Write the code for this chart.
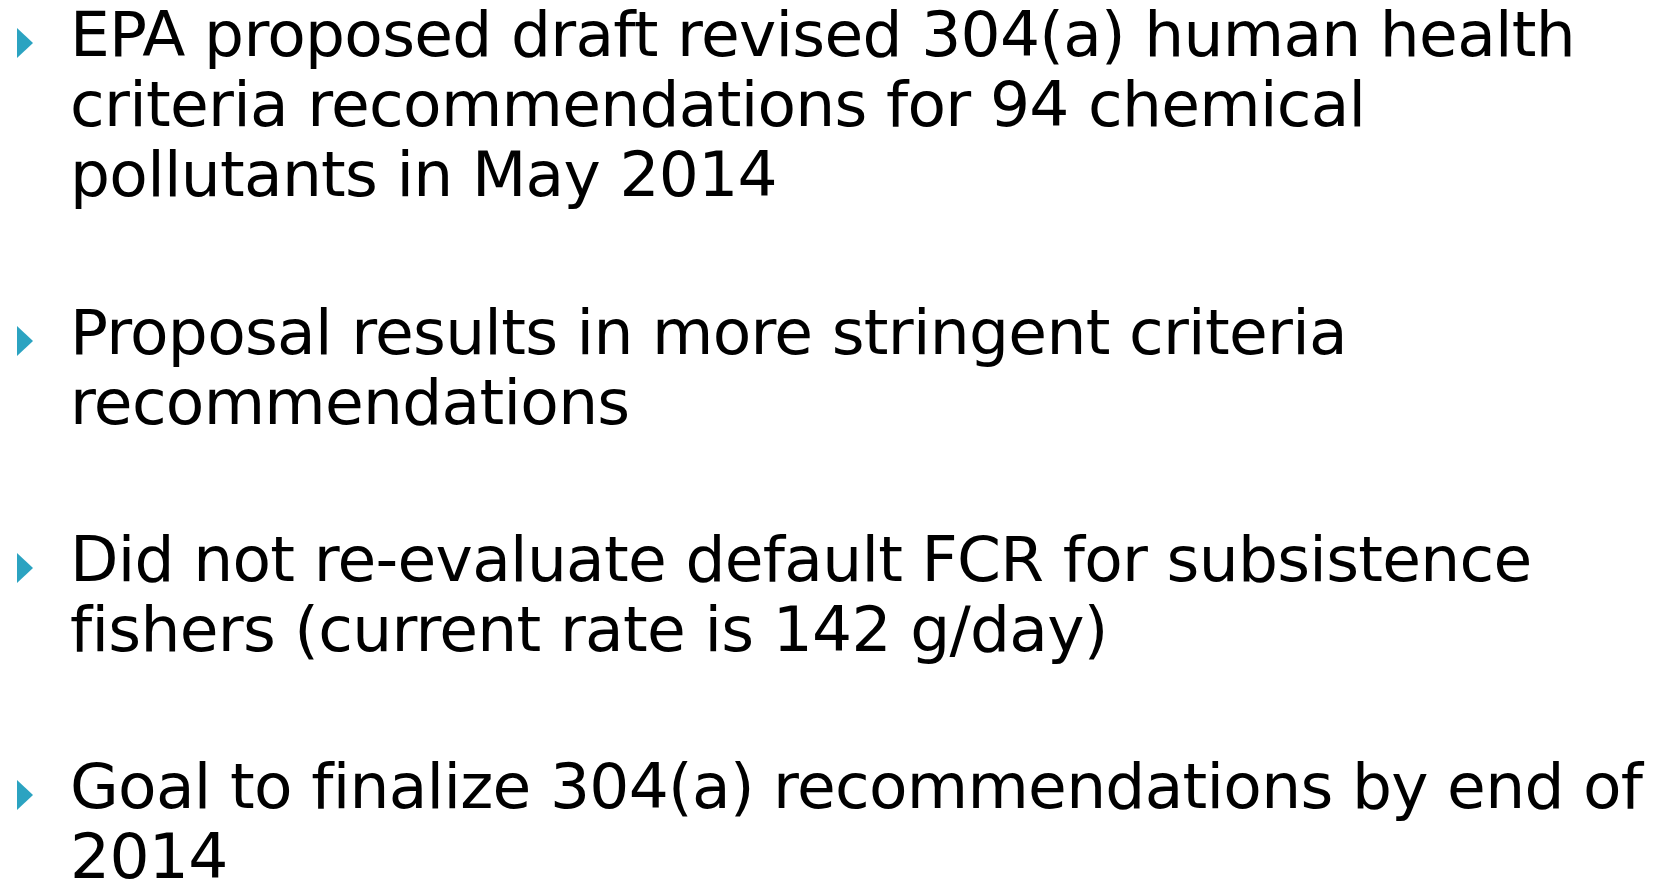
<!DOCTYPE html>
<html>
<head>
<meta charset="utf-8">
<script src="https://cdn.jsdelivr.net/npm/chart.js@4/dist/chart.umd.min.js"></script>
<style>
  html, body { margin: 0; padding: 0; background: #fff; }
  body { width: 1669px; height: 885px; position: relative; overflow: hidden; }
  .bullet { position: absolute; left: 0; }
  .bullet .mark {
    position: absolute; left: 17px; top: 28px;
    width: 0; height: 0;
    border-top: 15px solid transparent;
    border-bottom: 15px solid transparent;
    border-left: 16px solid #2ba3c1;
  }
  .bullet .line {
    position: absolute; left: 70px; white-space: nowrap;
    font-family: "DejaVu Sans", sans-serif; font-size: 63px;
    letter-spacing: -0.7px; font-variant-ligatures: none;
    line-height: 50px; color: #000;
  }
</style>
</head>
<body>
<script>
// slide text, one array per bullet (lines as they wrap in the picture)
const bullet1 = ["EPA proposed draft revised 304(a) human health",
                 "criteria recommendations for 94 chemical",
                 "pollutants in May 2014"];
const bullet2 = ["Proposal results in more stringent criteria",
                 "recommendations"];
const bullet3 = ["Did not re-evaluate default FCR for subsistence",
                 "fishers (current rate is 142 g/day)"];
const bullet4 = ["Goal to finalize 304(a) recommendations by end of",
                 "2014"];

const bullets = [bullet1, bullet2, bullet3, bullet4];
const tops = [0, 298, 525, 752];

bullets.forEach((lines, i) => {
  const div = document.createElement("div");
  div.className = "bullet";
  div.style.top = tops[i] + "px";
  let html = '<div class="mark"></div>';
  lines.forEach((txt, j) => {
    html += `<div class="line" style="top:${j * 70 + 10}px">${txt}</div>`;
  });
  div.innerHTML = html;
  document.body.appendChild(div);
});
</script>
</body>
</html>
